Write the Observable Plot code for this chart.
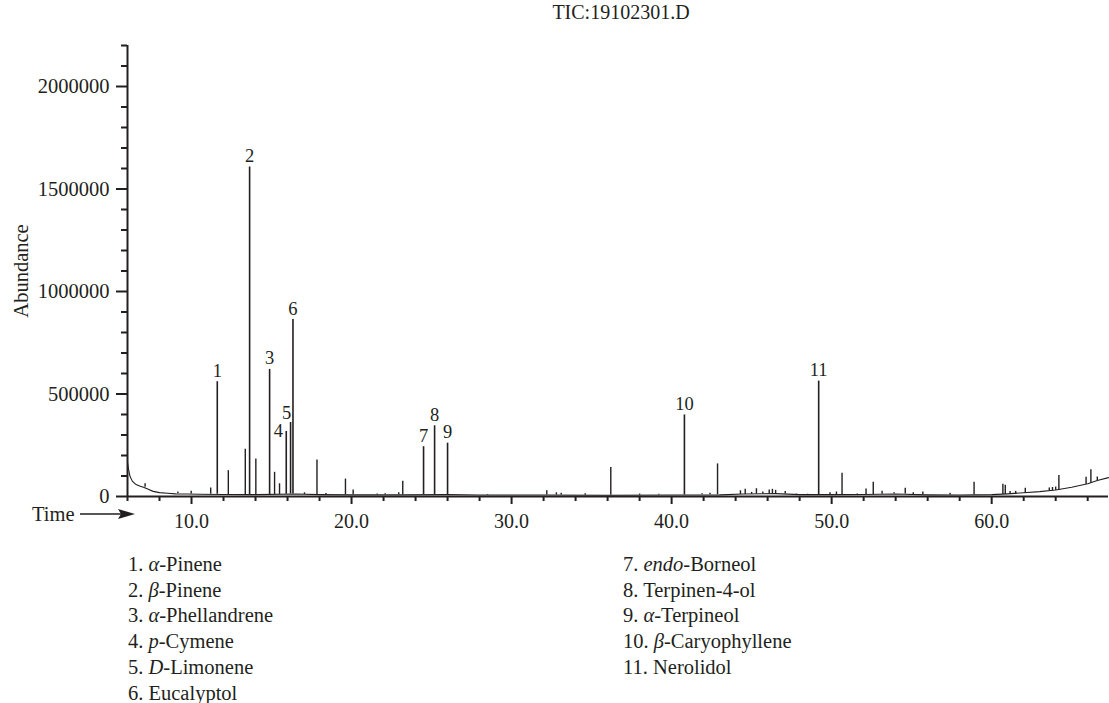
<!DOCTYPE html>
<html>
<head>
<meta charset="utf-8">
<script src="https://cdn.jsdelivr.net/npm/d3@7"></script>
<script src="https://cdn.jsdelivr.net/npm/@observablehq/plot@0.6"></script>
<style>
  body { margin: 0; background: #fff; }
  #wrap { position: relative; width: 1109px; height: 703px; font-family: "Liberation Serif", "DejaVu Serif", serif; color: #231f20; overflow: hidden; }
  #title { position: absolute; left: 621px; top: 0px; transform: translateX(-50%); font-size: 20px; line-height: 24px; white-space: nowrap; }
  #chart { position: absolute; left: 0; top: 0; }
  .legend { position: absolute; top: 552px; font-size: 20.5px; line-height: 25.7px; white-space: nowrap; }
  #timeLabel { position: absolute; left: 0; top: 500px; }
</style>
</head>
<body>
<div id="wrap">
  <div id="chart"></div>
  <div id="title"></div>
  <svg id="timeLabel" width="140" height="30"></svg>
  <div class="legend" id="legLeft" style="left:128px"></div>
  <div class="legend" id="legRight" style="left:623px"></div>
</div>
<script>
// ---------- data ----------
const titleText = "TIC:19102301.D";
const yLabel = "Abundance";
const xLabel = "Time";

// baseline of the trace (retention time in min, abundance)
const baseTimes  = [6.0, 6.05, 6.15, 6.3, 6.5, 6.8, 7.0, 7.3, 7.6, 8.0, 8.5, 9.0, 9.7, 10.5, 12, 14, 16.5, 18, 20, 23, 26, 28, 32, 36, 40, 43, 44.5, 46.5, 48, 50, 52, 54, 56, 58, 60, 61, 62, 63, 64, 65, 66, 66.6, 67.3];
const baseValues = [168000, 140000, 100000, 75000, 60000, 50000, 45000, 35000, 25000, 19000, 16000, 13000, 12000, 11000, 10000, 9000, 12000, 9000, 8000, 8000, 9000, 7000, 7000, 6000, 7000, 8000, 12000, 14000, 9000, 9000, 10000, 12000, 8000, 7000, 9000, 13000, 18000, 24000, 32000, 45000, 62000, 78000, 92000];

// numbered (identified) peaks
const labeledIds     = [1, 2, 3, 4, 5, 6, 7, 8, 9, 10, 11];
const labeledTimes   = [11.61, 13.63, 14.88, 15.92, 16.19, 16.34, 24.5, 25.19, 26.0, 40.8, 49.19];
const labeledHeights = [560000, 1607000, 620000, 317000, 361000, 863000, 243000, 345000, 260000, 398000, 563000];
const labeledBases   = [11000, 10000, 10000, 11000, 12000, 12000, 9000, 9000, 9000, 7000, 9000];

// other (unlabelled) peaks
const minorTimes   = [7.1, 9.15, 9.98, 11.2, 12.3, 13.36, 14.02, 15.19, 15.5, 17.06, 17.84, 18.4, 19.62, 20.1, 21.6, 22.1, 22.95, 23.2, 28.5, 32.2, 32.8, 33.1, 34.6, 36.2, 38.0, 39.2, 41.9, 42.4, 42.87, 44.3, 44.6, 45.0, 45.3, 45.7, 46.1, 46.3, 46.5, 47.1, 47.8, 48.5, 49.9, 50.3, 50.65, 51.6, 52.15, 52.6, 53.15, 53.9, 54.6, 55.1, 55.7, 57.4, 58.9, 60.7, 60.85, 61.15, 61.5, 62.1, 63.6, 63.8, 64.0, 64.2, 65.9, 66.2, 66.6];
const minorHeights = [62000, 22000, 26000, 42000, 126000, 231000, 183000, 118000, 62000, 18000, 178000, 15000, 85000, 32000, 12000, 14000, 18000, 75000, 10000, 28000, 18000, 16000, 14000, 142000, 12000, 11000, 14000, 16000, 159000, 28000, 35000, 20000, 38000, 22000, 32000, 35000, 30000, 25000, 12000, 11000, 18000, 22000, 113000, 12000, 37000, 69000, 26000, 18000, 40000, 18000, 22000, 16000, 69000, 60000, 55000, 25000, 25000, 40000, 42000, 44000, 46000, 102000, 94000, 130000, 95000];
const minorBases   = [45000, 13000, 12000, 11000, 10000, 10000, 10000, 10000, 10000, 10000, 9000, 9000, 8000, 8000, 8000, 8000, 8000, 8000, 7000, 7000, 7000, 7000, 6000, 6000, 6000, 7000, 8000, 8000, 8000, 10000, 10000, 11000, 12000, 12000, 13000, 13000, 13000, 12000, 10000, 9000, 9000, 9000, 9000, 10000, 10000, 10000, 11000, 12000, 12000, 10000, 9000, 7000, 7000, 10000, 10000, 12000, 13000, 16000, 27000, 28000, 30000, 32000, 58000, 65000, 78000];

// legend: italic prefix + rest of compound name
const compoundItalic = ["α", "β", "α", "p", "D", "", "endo", "", "α", "β", ""];
const compoundRest   = ["-Pinene", "-Pinene", "-Phellandrene", "-Cymene", "-Limonene", "Eucalyptol", "-Borneol", "Terpinen-4-ol", "-Terpineol", "-Caryophyllene", "Nerolidol"];

// axes
const xDomain = [6, 67.3];
const yDomain = [0, 2200000];
const xMajorTicks = [10, 20, 30, 40, 50, 60];
const xMinorTicks = [6, 8, 12, 14, 16, 18, 22, 24, 26, 28, 32, 34, 36, 38, 42, 44, 46, 48, 52, 54, 56, 58, 62, 64, 66];
const yMajorTicks = [0, 500000, 1000000, 1500000, 2000000];
const yMinorTicks = [100000, 200000, 300000, 400000, 600000, 700000, 800000, 900000, 1100000, 1200000, 1300000, 1400000, 1600000, 1700000, 1800000, 1900000, 2100000, 2200000];

// ---------- build ----------
const base = baseTimes.map((t, i) => ({t, v: baseValues[i]}));
const labeled = labeledIds.map((id, i) => ({id, t: labeledTimes[i], h: labeledHeights[i], b: labeledBases[i]}));
const minor = minorTimes.map((t, i) => ({t, h: minorHeights[i], b: minorBases[i]}));
const ink = "#231f20";

const chart = Plot.plot({
  width: 1109,
  height: 540,
  marginLeft: 127,
  marginRight: 1,
  marginTop: 45,
  marginBottom: 44,
  style: {fontFamily: '"Liberation Serif", "DejaVu Serif", serif', fontSize: "20px", color: ink, background: "transparent", overflow: "visible"},
  x: {domain: xDomain, axis: null},
  y: {domain: yDomain, axis: null},
  marks: [
    Plot.axisY(yMinorTicks, {tickSize: 6, strokeWidth: 2, tickFormat: () => "", label: null}),
    Plot.axisY(yMajorTicks, {tickSize: 11, tickPadding: 7, strokeWidth: 2, tickFormat: d => String(d), fontSize: 20.5,
      label: yLabel, labelAnchor: "center", labelArrow: "none", labelOffset: 114}),
    Plot.axisX(xMinorTicks, {tickSize: 5, strokeWidth: 2, tickFormat: () => "", label: null}),
    Plot.axisX(xMajorTicks, {tickSize: 8, tickPadding: 9, strokeWidth: 2, tickFormat: d => d.toFixed(1), fontSize: 20, label: null}),
    Plot.line(base, {x: "t", y: "v", stroke: ink, strokeWidth: 1.1}),
    Plot.ruleX(minor, {x: "t", y1: "b", y2: "h", stroke: ink, strokeWidth: 1.4}),
    Plot.ruleX(labeled, {x: "t", y1: "b", y2: "h", stroke: ink, strokeWidth: 1.6}),
    Plot.ruleX([xDomain[0]], {y1: yDomain[0], y2: yDomain[1], stroke: ink, strokeWidth: 2}),
    Plot.ruleY([yDomain[0]], {x1: xDomain[0], x2: xDomain[1], stroke: ink, strokeWidth: 2}),
    Plot.text(labeled.filter(d => d.id !== 4 && d.id !== 5), {x: "t", y: "h", text: d => String(d.id), dy: -11, fontSize: 18.5, fill: ink}),
    Plot.text(labeled.filter(d => d.id === 4), {x: "t", y: "h", text: d => String(d.id), dx: -8, dy: 0, fontSize: 18.5, fill: ink}),
    Plot.text(labeled.filter(d => d.id === 5), {x: "t", y: "h", text: d => String(d.id), dx: -4, dy: -9, fontSize: 18.5, fill: ink})
  ]
});
document.getElementById("chart").appendChild(chart);

document.getElementById("title").textContent = titleText;

// Time label with arrow
const tl = d3.select("#timeLabel");
tl.append("text").attr("x", 32).attr("y", 21).attr("font-size", 20.5).attr("fill", ink)
  .attr("font-family", '"Liberation Serif", serif').text(xLabel);
tl.append("line").attr("x1", 80).attr("x2", 122).attr("y1", 14).attr("y2", 14).attr("stroke", ink).attr("stroke-width", 1.5);
tl.append("path").attr("d", "M135,14 L118,9 L121,14 L118,19 Z").attr("fill", ink);

// legend
function legendHtml(i) {
  const it = compoundItalic[i] ? `<i>${compoundItalic[i]}</i>` : "";
  return `<div>${labeledIds[i]}. ${it}${compoundRest[i]}</div>`;
}
document.getElementById("legLeft").innerHTML = [0,1,2,3,4,5].map(legendHtml).join("");
document.getElementById("legRight").innerHTML = [6,7,8,9,10].map(legendHtml).join("");
</script>
</body>
</html>
